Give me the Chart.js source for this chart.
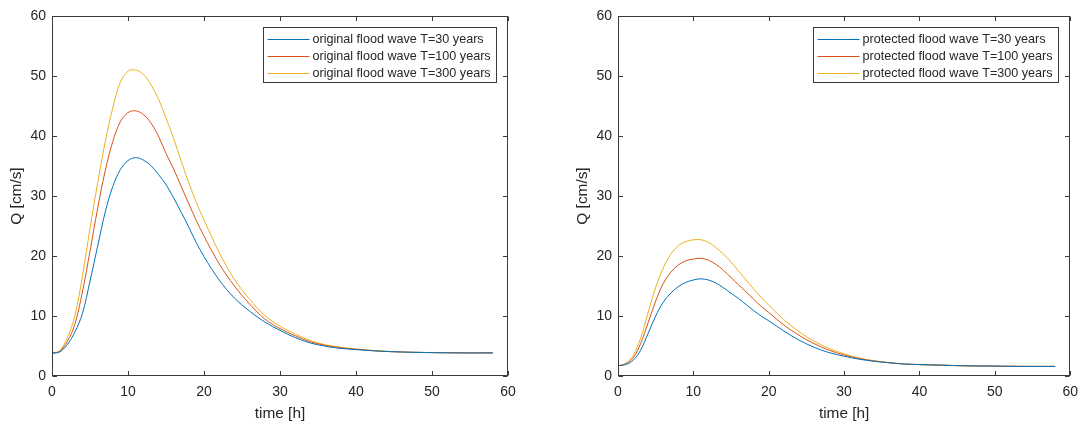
<!DOCTYPE html>
<html>
<head>
<meta charset="utf-8">
<script src="https://cdn.jsdelivr.net/npm/chart.js@4"></script>
<style>
    html, body { margin: 0; padding: 0; background: #fff; }
    #wrap { position: relative; width: 1086px; height: 423px; }
    .pane { position: absolute; top: 0; height: 423px; }
</style>
</head>
<body>
<div id="wrap">
    <div class="pane" style="left:0;width:560px"><canvas id="chartLeft"></canvas></div>
    <div class="pane" style="left:566px;width:520px"><canvas id="chartRight"></canvas></div>
</div>
<script>
// time [h]
var hours = [0, 1, 2, 3, 4, 5, 6, 7, 8, 9, 10, 11, 12, 13, 14, 15, 16, 17, 18, 19, 20,
    22, 24, 26, 28, 30, 32, 34, 36, 38, 40, 43, 46, 50, 54, 58];

// Q [cm/s]
var origT30 = [3.8, 4.0, 5.2, 7.3, 10.4, 15.8, 21.6, 27.3, 31.6, 34.4, 35.9, 36.4, 36.0, 35.1, 33.6, 31.9, 29.7, 27.3, 24.8, 22.2, 19.9,
    16.0, 13.0, 10.8, 9.0, 7.6, 6.4, 5.5, 4.95, 4.6, 4.4, 4.15, 4.0, 3.9, 3.85, 3.85];
var origT100 = [3.8, 4.1, 5.7, 8.6, 14.0, 20.8, 27.9, 34.2, 39.1, 42.4, 43.9, 44.2, 43.6, 42.2, 40.0, 37.1, 34.5, 31.6, 28.7, 25.9, 23.3,
    18.7, 15.0, 12.0, 9.5, 7.9, 6.7, 5.7, 5.1, 4.7, 4.45, 4.15, 4.0, 3.9, 3.85, 3.85];
var origT300 = [3.8, 4.2, 6.3, 10.0, 16.6, 24.6, 32.1, 39.0, 44.7, 49.0, 50.8, 51.0, 50.3, 48.6, 46.2, 43.0, 39.6, 35.8, 32.2, 28.9, 26.0,
    20.6, 16.1, 12.8, 10.1, 8.3, 7.0, 5.9, 5.2, 4.8, 4.5, 4.2, 4.0, 3.9, 3.85, 3.85];

var protT30 = [1.7, 1.9, 2.6, 4.3, 7.1, 10.0, 12.3, 13.8, 14.9, 15.6, 16.0, 16.2, 16.0, 15.5, 14.7, 13.8, 12.9, 11.9, 10.9, 10.0, 9.2,
    7.5, 6.0, 4.8, 3.9, 3.3, 2.8, 2.45, 2.2, 2.0, 1.9, 1.8, 1.7, 1.65, 1.6, 1.6];
var protT100 = [1.7, 2.0, 3.0, 5.4, 8.9, 12.5, 15.4, 17.3, 18.5, 19.2, 19.5, 19.6, 19.3, 18.6, 17.6, 16.4, 15.2, 14.0, 12.8, 11.6, 10.6,
    8.5, 6.8, 5.4, 4.3, 3.5, 2.9, 2.5, 2.2, 2.0, 1.9, 1.8, 1.7, 1.65, 1.6, 1.6];
var protT300 = [1.7, 2.1, 3.4, 6.3, 10.6, 14.8, 18.0, 20.3, 21.7, 22.4, 22.7, 22.7, 22.3, 21.4, 20.3, 19.0, 17.5, 16.0, 14.5, 13.1, 11.8,
    9.4, 7.4, 5.8, 4.6, 3.7, 3.0, 2.55, 2.25, 2.0, 1.9, 1.8, 1.7, 1.65, 1.6, 1.6];

var axisTicks = [0, 10, 20, 30, 40, 50, 60];
var lineColors = ["#0072BD", "#D95319", "#EDB120"];
var textColor = "#262626";
var fontFamily = "'Liberation Sans', Arial, sans-serif";

function points(ys) {
    return hours.map(function (h, i) { return {x: h, y: ys[i]}; });
}

function makeSet(label, ys, idx) {
    return {
        label: label,
        data: points(ys),
        borderColor: lineColors[idx],
        backgroundColor: lineColors[idx],
        borderWidth: 1,
        pointRadius: 0,
        tension: 0.35,
        fill: false
    };
}

// box around the axes, inward ticks on all four sides, and a boxed legend
var matlabAxes = {
    id: "matlabAxes",
    afterDatasetsDraw: function (chart) {
        var ctx = chart.ctx, a = chart.chartArea;
        var xs = chart.scales.x, ys = chart.scales.y;
        var l = Math.round(a.left) + 0.5, r = Math.round(a.right) - 0.5;
        var t = Math.round(a.top) + 0.5, b = Math.round(a.bottom) - 0.5;
        ctx.save();
        ctx.strokeStyle = "#3a3a3a";
        ctx.lineWidth = 1;
        ctx.strokeRect(l, t, r - l, b - t);
        ctx.beginPath();
        axisTicks.forEach(function (v) {
            var px = Math.round(xs.getPixelForValue(v)) + 0.5;
            ctx.moveTo(px, b); ctx.lineTo(px, b - 4.5);
            ctx.moveTo(px, t); ctx.lineTo(px, t + 4.5);
            var py = Math.round(ys.getPixelForValue(v)) + 0.5;
            ctx.moveTo(l, py); ctx.lineTo(l + 4.5, py);
            ctx.moveTo(r, py); ctx.lineTo(r - 4.5, py);
        });
        ctx.stroke();

        // legend
        ctx.font = "12.6px " + fontFamily;
        var sets = chart.data.datasets;
        var tw = 0;
        sets.forEach(function (d) { tw = Math.max(tw, ctx.measureText(d.label).width); });
        var w = Math.round(4 + 42 + 3 + tw + 6), h = 55;
        var bx = Math.round(a.right - 12 - w) + 0.5, by = Math.round(a.top + 11) + 0.5;
        ctx.fillStyle = "#fff";
        ctx.fillRect(bx, by, w, h);
        ctx.strokeStyle = "#3a3a3a";
        ctx.strokeRect(bx, by, w, h);
        ctx.textBaseline = "middle";
        ctx.textAlign = "left";
        sets.forEach(function (d, i) {
            var yy = Math.round(by + 11 + i * 17) + 0.5;
            ctx.strokeStyle = d.borderColor;
            ctx.beginPath();
            ctx.moveTo(bx + 4, yy);
            ctx.lineTo(bx + 46, yy);
            ctx.stroke();
            ctx.fillStyle = textColor;
            ctx.fillText(d.label, bx + 49, yy + 0.5);
        });
        ctx.restore();
    }
};

function makeChart(id, sets, padRight) {
    return new Chart(document.getElementById(id), {
        type: "line",
        data: {datasets: sets},
        options: {
            responsive: true,
            maintainAspectRatio: false,
            animation: false,
            devicePixelRatio: 1,
            layout: {padding: {left: 0, right: padRight, top: 16, bottom: 0}},
            plugins: {legend: {display: false}, tooltip: {enabled: false}},
            scales: {
                x: {
                    type: "linear",
                    min: 0,
                    max: 60,
                    grid: {display: false, drawTicks: false},
                    border: {display: false},
                    ticks: {stepSize: 10, color: textColor, padding: 8, maxRotation: 0,
                        font: {family: fontFamily, size: 14}},
                    title: {display: true, text: "time [h]", color: textColor,
                        padding: {top: 2, bottom: 0}, font: {family: fontFamily, size: 15.4}},
                    afterFit: function (s) { s.height = 47; }
                },
                y: {
                    min: 0,
                    max: 60,
                    grid: {display: false, drawTicks: false},
                    border: {display: false},
                    ticks: {stepSize: 10, color: textColor, padding: 6,
                        font: {family: fontFamily, size: 14}},
                    title: {display: true, text: "Q [cm/s]", color: textColor,
                        padding: {top: 8, bottom: 0}, font: {family: fontFamily, size: 15.4}},
                    afterFit: function (s) { s.width = 52; }
                }
            }
        },
        plugins: [matlabAxes]
    });
}

makeChart("chartLeft", [
    makeSet("original flood wave T=30 years", origT30, 0),
    makeSet("original flood wave T=100 years", origT100, 1),
    makeSet("original flood wave T=300 years", origT300, 2)
], 52);

makeChart("chartRight", [
    makeSet("protected flood wave T=30 years", protT30, 0),
    makeSet("protected flood wave T=100 years", protT100, 1),
    makeSet("protected flood wave T=300 years", protT300, 2)
], 12);
</script>
</body>
</html>
